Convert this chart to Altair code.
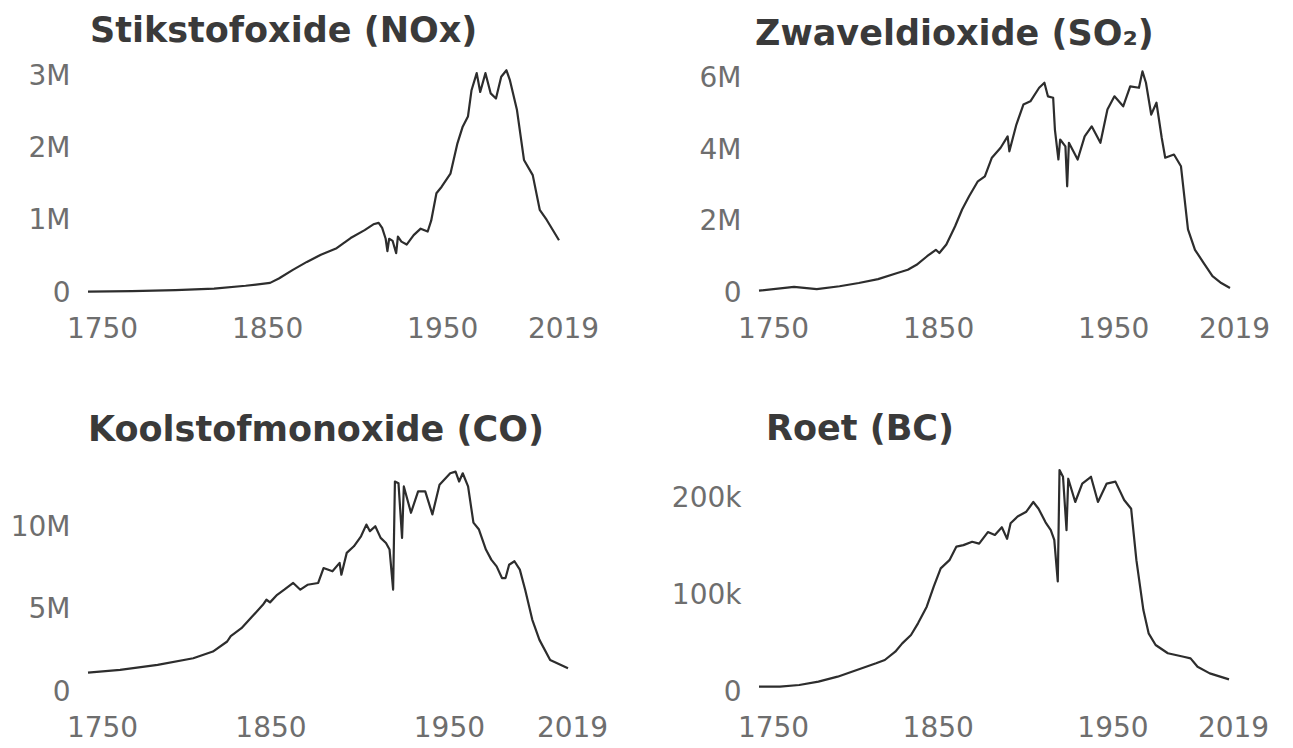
import altair as alt
import pandas as pd

# ---- data (values in tonnes) ----
nox_years = [1750, 1775, 1800, 1822, 1840, 1854, 1859, 1867, 1875, 1883, 1892, 1900, 1908, 1913, 1916,
             1918, 1920, 1921, 1922, 1924, 1926, 1927, 1929, 1932, 1936, 1940, 1944, 1946, 1949, 1952,
             1957, 1961, 1964, 1967, 1969, 1972, 1974, 1977, 1980, 1983, 1986, 1989, 1991, 1995, 1999,
             2004, 2008, 2012, 2019]
nox_mt = [0.02, 0.025, 0.04, 0.06, 0.10, 0.14, 0.20, 0.32, 0.43, 0.53, 0.62, 0.76, 0.87, 0.95, 0.97,
          0.90, 0.75, 0.58, 0.75, 0.72, 0.55, 0.78, 0.71, 0.67, 0.80, 0.89, 0.85, 1.00, 1.38, 1.47,
          1.65, 2.07, 2.30, 2.44, 2.80, 3.04, 2.78, 3.04, 2.76, 2.69, 2.99, 3.08, 2.94, 2.53, 1.84,
          1.63, 1.15, 1.01, 0.73]

so2_years = [1750, 1770, 1783, 1796, 1807, 1818, 1829, 1835, 1840, 1846, 1851, 1853, 1857, 1862, 1866,
             1870, 1875, 1879, 1883, 1888, 1892, 1893, 1897, 1901, 1905, 1910, 1913, 1915, 1918, 1919,
             1921, 1922, 1925, 1926, 1927, 1932, 1936, 1940, 1945, 1949, 1953, 1958, 1962, 1967, 1969,
             1971, 1974, 1977, 1980, 1982, 1987, 1991, 1995, 1999, 2004, 2009, 2014, 2019]
so2_mt = [0.065, 0.17, 0.11, 0.19, 0.28, 0.39, 0.56, 0.65, 0.79, 1.03, 1.21, 1.12, 1.36, 1.87, 2.34,
          2.71, 3.13, 3.27, 3.79, 4.07, 4.39, 3.97, 4.72, 5.28, 5.37, 5.75, 5.89, 5.51, 5.47, 4.58,
          3.74, 4.30, 4.11, 2.99, 4.21, 3.74, 4.39, 4.67, 4.21, 5.14, 5.51, 5.23, 5.79, 5.75, 6.21,
          5.89, 5.00, 5.33, 4.35, 3.79, 3.88, 3.55, 1.78, 1.21, 0.84, 0.47, 0.28, 0.14]

co_years = [1750, 1768, 1789, 1809, 1820, 1828, 1830, 1836, 1842, 1848, 1850, 1852, 1856, 1860, 1865,
            1869, 1873, 1879, 1882, 1887, 1891, 1892, 1895, 1899, 1903, 1906, 1908, 1911, 1914, 1917,
            1919, 1921, 1922, 1924, 1926, 1927, 1931, 1935, 1939, 1943, 1947, 1953, 1956, 1958, 1960,
            1963, 1966, 1969, 1973, 1976, 1979, 1982, 1984, 1986, 1989, 1992, 1995, 1999, 2003, 2009,
            2019]
co_mt = [1.18, 1.34, 1.65, 2.05, 2.46, 3.07, 3.40, 3.88, 4.59, 5.30, 5.61, 5.45, 5.91, 6.22, 6.63,
         6.22, 6.52, 6.63, 7.54, 7.34, 7.85, 7.13, 8.46, 8.86, 9.47, 10.18, 9.78, 10.08, 9.37, 9.06,
         8.66, 6.22, 12.8, 12.7, 9.37, 12.5, 10.9, 12.2, 12.2, 10.8, 12.6, 13.3, 13.4, 12.8, 13.3,
         12.5, 10.3, 9.9, 8.66, 8.05, 7.64, 6.93, 6.93, 7.74, 7.95, 7.44, 6.22, 4.39, 3.17, 1.95,
         1.44]

bc_years = [1750, 1762, 1773, 1784, 1795, 1806, 1817, 1822, 1828, 1832, 1837, 1841, 1846, 1850, 1854,
            1859, 1863, 1867, 1872, 1876, 1881, 1885, 1889, 1892, 1894, 1898, 1903, 1907, 1910, 1914,
            1917, 1919, 1921, 1922, 1924, 1926, 1927, 1931, 1935, 1940, 1944, 1949, 1954, 1959, 1963,
            1966, 1970, 1973, 1977, 1984, 1993, 1997, 2001, 2008, 2019]
bc_kt = [5.5, 5.5, 7.2, 10.7, 15.8, 22.7, 29.6, 33, 41.6, 50.2, 58.8, 70.8, 88, 108.6, 127.5,
         136, 150, 151.5, 155, 153, 165, 162, 170, 158, 174, 181, 186, 196, 189, 175,
         167, 157, 114, 229, 222, 167, 220, 196, 215, 222, 196, 215, 217, 198, 189,
         136, 84.5, 60.5, 48.5, 40, 36.4, 34.7, 26, 19.2, 13]

x_ticks = [1750, 1850, 1950, 2019]

FONT = "DejaVu Sans"
LABEL_COLOR = "#6e6e6e"
TITLE_COLOR = "#3a3a3a"
LINE_COLOR = "#2d2d2d"

label_expr = ("datum.value == 0 ? '0' : (datum.value >= 1000000 ? "
              "format(datum.value / 1000000, 'd') + 'M' : format(datum.value / 1000, 'd') + 'k')")


def panel(title, years, values, mult, ymax, yticks, width, height=222, dx=0, offset=22):
    df = pd.DataFrame({"year": years, "value": [v * mult for v in values]})
    return (
        alt.Chart(df)
        .mark_line(color=LINE_COLOR, strokeWidth=2.2, strokeJoin="round")
        .encode(
            x=alt.X(
                "year:Q",
                scale=alt.Scale(domain=[1750, 2019], nice=False, zero=False),
                axis=alt.Axis(
                    values=x_ticks, format="d", title=None, grid=False, domain=False,
                    ticks=False, tickSize=0, labelPadding=22, labelFont=FONT,
                    labelFontSize=28, labelColor=LABEL_COLOR, labelFlush=False,
                    labelOverlap=False,
                    labelOffset={"condition": {"test": "datum.value == 1750", "value": 14}, "value": 4},
                ),
            ),
            y=alt.Y(
                "value:Q",
                scale=alt.Scale(domain=[0, ymax], nice=False),
                axis=alt.Axis(
                    values=yticks, labelExpr=label_expr, title=None, grid=False, domain=False,
                    ticks=False, tickSize=0, labelPadding=18, labelFont=FONT,
                    labelFontSize=28, labelColor=LABEL_COLOR, labelAlign="right",
                    labelFlush=False, labelOverlap=False,
                ),
            ),
        )
        .properties(
            width=width,
            height=height,
            title=alt.TitleParams(
                text=title, anchor="start", frame="group", font=FONT, fontSize=35,
                fontWeight="bold", color=TITLE_COLOR, offset=offset, dx=dx,
            ),
        )
    )


p1 = panel("Stikstofoxide (NOx)", nox_years, nox_mt, 1e6, 3.07e6, [0, 1e6, 2e6, 3e6], 471, dx=2, offset=13)
p2 = panel("Zwaveldioxide (SO₂)", so2_years, so2_mt, 1e6, 6.22e6, [0, 2e6, 4e6, 6e6], 471, dx=-4, offset=13)
p3 = panel("Koolstofmonoxide (CO)", co_years, co_mt, 1e6, 13.5e6, [0, 5e6, 10e6], 480, dx=0)
p4 = panel("Roet (BC)", bc_years, bc_kt, 1e3, 229e3, [0, 100e3, 200e3], 470, dx=7)

chart = (
    alt.concat(p1, p2, p3, p4, columns=2, align="none", bounds="flush",
               spacing={"row": 177, "column": 191})
    .configure(background="white", padding={"top": 6, "left": 2, "right": 2, "bottom": 2})
    .configure_view(stroke=None, strokeWidth=0)
)

chart.save("out.html", embed_options={"renderer": "svg", "actions": False})
